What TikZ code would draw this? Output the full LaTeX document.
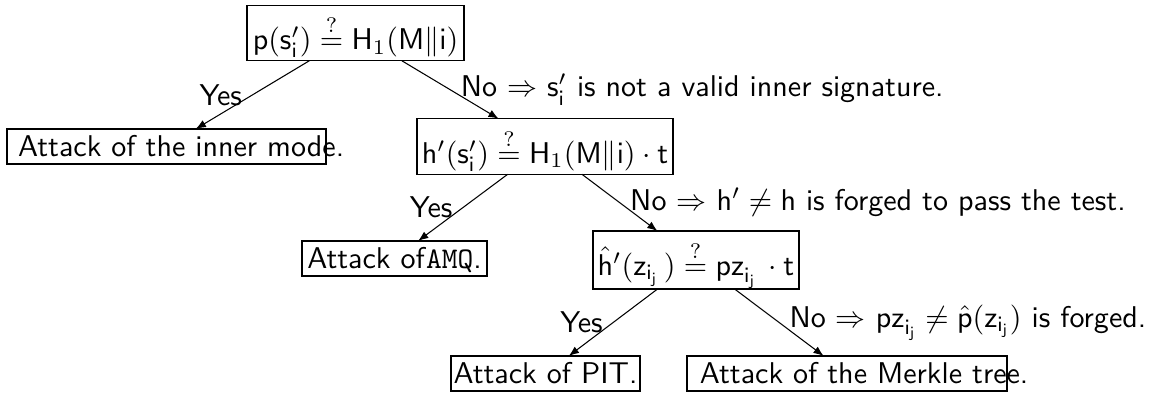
\documentclass[tikz,border=0pt]{standalone}
\usetikzlibrary{arrows.meta}
\begin{document}
\begin{tikzpicture}[x=0.333pt,y=-0.333pt,
  font=\fontsize{10}{12}\selectfont\sffamily,
  box/.style={draw, line width=0.45pt, inner xsep=0pt, inner ysep=0pt, outer sep=0pt},
  testbox/.style={box, text height=14.8pt, text depth=3.7pt},
  leafbox/.style={box, text height=9.2pt, text depth=2.5pt},
  arr/.style={-{Latex[length=3.4pt,width=2.6pt]}, line width=0.35pt}]
\useasboundingbox (0,0) rectangle (1150,394);
% decision nodes
\node[testbox, minimum width=72.3pt] (n1) at (355.5,33)
  {$\mathsf{p}(\mathsf{s}'_{\mathsf{i}})\stackrel{?}{=}\mathsf{H}_{1}(\mathsf{M}\|\mathsf{i})$};
\node[testbox, minimum width=85.2pt] (n2) at (545,146.5)
  {$\mathsf{h}'(\mathsf{s}'_{\mathsf{i}})\stackrel{?}{=}\mathsf{H}_{1}(\mathsf{M}\|\mathsf{i})\cdot\mathsf{t}$};
\node[testbox, text depth=4.5pt, minimum width=68.6pt] (n3) at (696,260)
  {$\hat{\mathsf{h}}'(\mathsf{z}_{\mathsf{i}_{\mathsf{j}}}\,)\stackrel{?}{=}\mathsf{pz}_{\mathsf{i}_{\mathsf{j}}}\,\cdot\mathsf{t}$};
% leaves
\node[leafbox, inner xsep=3.7pt] (inner) at (166.5,146.5)
  {\makebox[98.8pt][l]{Attack of the inner mode.}};
\node[leafbox, minimum width=61.6pt] (amq) at (394.5,258.5)
  {Attack of\texttt{AMQ}.};
\node[leafbox, minimum width=62.9pt] (pit) at (545.5,373.5)
  {Attack of PIT.};
\node[leafbox, inner xsep=4.3pt] (merkle) at (847,373.5)
  {\makebox[98pt][l]{Attack of the Merkle tree.}};
% connectors
\draw[arr] (n1) -- node[left]{Yes} (inner);
\draw[arr] (n1) -- node[right]{No $\Rightarrow$ $\mathsf{s}'_{\mathsf{i}}$ is not a valid inner signature.} (n2);
\draw[arr] (n2) -- node[left]{Yes} (amq);
\draw[arr] (n2) -- node[right]{No $\Rightarrow$ $\mathsf{h}'\neq\mathsf{h}$ is forged to pass the test.} (n3);
\draw[arr] (n3) -- node[left]{Yes} (pit);
\draw[arr] (n3) -- node[right]{No $\Rightarrow$ $\mathsf{pz}_{\mathsf{i}_{\mathsf{j}}}\neq\hat{\mathsf{p}}(\mathsf{z}_{\mathsf{i}_{\mathsf{j}}})$ is forged.} (merkle);
\end{tikzpicture}
\end{document}
